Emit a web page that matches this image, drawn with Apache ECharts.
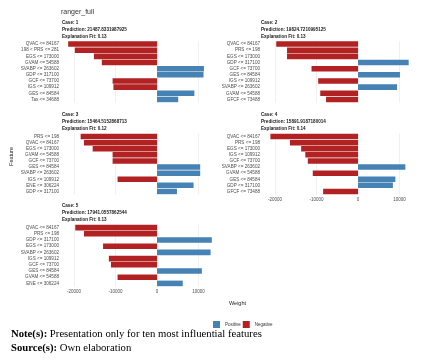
<!DOCTYPE html>
<html>
<head>
<meta charset="utf-8">
<script src="https://cdn.jsdelivr.net/npm/echarts@6/dist/echarts.min.js"></script>
<style>
  html, body { margin: 0; padding: 0; background: #fff; }
  #chart { width: 432px; height: 364px; }
</style>
</head>
<body>
<div id="chart"></div>
<script>
// 数据
var modelName = 'ranger_full';
var caseLabels = ['Case: 1', 'Case: 2', 'Case: 3', 'Case: 4', 'Case: 5'];
var predictions = ['21487.8331987925', '19824.7210995125', '15464.5152868713', '15891.9187180014', '17941.0557862544'];
var explanationFits = ['0.13', '0.13', '0.12', '0.14', '0.13'];

var case1Features = ['QVAC <= 84167', '198 < PRS <= 281', 'EGS <= 173000', 'GVAM <= 54588', 'SVABP <= 263602',
    'GDP <= 317100', 'GCF <= 73700', 'IGS <= 109912', 'GES <= 84584', 'Tax <= 34688'];
var case1Weights = [-21400, -19800, -15200, -13300, 11300, 11200, -10700, -10500, 9000, 5100];

var case2Features = ['QVAC <= 84167', 'PRS <= 198', 'EGS <= 173000', 'GDP <= 317100', 'GCF <= 73700',
    'GES <= 84584', 'IGS <= 109912', 'SVABP <= 263602', 'GVAM <= 54588', 'GFCF <= 73488'];
var case2Weights = [-19700, -17100, -17100, 12200, -11200, 10100, -9600, 9400, -9100, -7700];

var case3Features = ['PRS <= 198', 'QVAC <= 84167', 'EGS <= 173000', 'GVAM <= 54588', 'GCF <= 73700',
    'GES <= 84584', 'SVABP <= 263602', 'IGS <= 109912', 'ENE <= 306224', 'GDP <= 317100'];
var case3Weights = [-18400, -17600, -15500, -10700, -10700, 10400, 10400, -9500, 8800, 4800];

var case4Features = ['QVAC <= 84167', 'PRS <= 198', 'EGS <= 173000', 'IGS <= 109912', 'GCF <= 73700',
    'SVABP <= 263602', 'GVAM <= 54588', 'GES <= 84584', 'GDP <= 317100', 'GFCF <= 73488'];
var case4Weights = [-21100, -16400, -13700, -12700, -12100, 11400, -10900, 9000, 8400, -8400];

var case5Features = ['QVAC <= 84167', 'PRS <= 198', 'GDP <= 317100', 'EGS <= 173000', 'SVABP <= 263602',
    'IGS <= 109912', 'GCF <= 73700', 'GES <= 84584', 'GVAM <= 54588', 'ENE <= 306224'];
var case5Weights = [-19700, -17600, 13200, -13000, 12900, -11600, -11100, 10800, -9500, 6200];

var weightTicks = [-20000, -10000, 0, 10000];
var legendNames = ['Positive', 'Negative'];

var allFeatures = [case1Features, case2Features, case3Features, case4Features, case5Features];
var allWeights = [case1Weights, case2Weights, case3Weights, case4Weights, case5Weights];

var chart = echarts.init(document.getElementById('chart'));

var FONT = '"Liberation Sans", Arial, sans-serif';
var SERIF = '"Liberation Serif", "Times New Roman", serif';
var POS = '#4682B4', NEG = '#B22222';

// 面板位置
var panels = [
    { left: 61, top: 41, height: 61.5, showX: false, hx: 62, hy: 20 },
    { left: 262, top: 41, height: 61.5, showX: false, hx: 261, hy: 20 },
    { left: 61, top: 133.5, height: 61, showX: false, hx: 62, hy: 112 },
    { left: 262, top: 133.5, height: 61, showX: true, hx: 261, hy: 112 },
    { left: 61, top: 224.5, height: 62, showX: true, hx: 62, hy: 203 }
];

var grids = [], xAxes = [], yAxes = [], series = [], graphics = [];

panels.forEach(function (p, i) {
    grids.push({ left: p.left, top: p.top, width: 158, height: p.height, containLabel: false });
    xAxes.push({
        type: 'value', gridIndex: i, min: -23130, max: 14930,
        axisLine: { show: false },
        axisTick: { show: false, customValues: weightTicks },
        axisLabel: {
            show: p.showX, customValues: weightTicks, fontSize: 4.5, color: '#4d4d4d',
            fontFamily: FONT, margin: 3,
            formatter: function (v) { return String(v); }
        },
        splitLine: { show: true, lineStyle: { color: '#e6e6e6', width: 0.6 } }
    });
    yAxes.push({
        type: 'category', gridIndex: i, inverse: true, data: allFeatures[i],
        axisLine: { show: false }, axisTick: { show: false },
        axisLabel: { interval: 0, fontSize: 4.6, color: '#4d4d4d', fontFamily: FONT, margin: 2 },
        splitLine: { show: false }
    });
    var w = allWeights[i];
    series.push({
        name: 'Positive', type: 'bar', xAxisIndex: i, yAxisIndex: i, stack: 'c' + i,
        barWidth: '90%', itemStyle: { color: POS },
        data: w.map(function (v) { return v > 0 ? v : '-'; })
    });
    series.push({
        name: 'Negative', type: 'bar', xAxisIndex: i, yAxisIndex: i, stack: 'c' + i,
        barWidth: '90%', itemStyle: { color: NEG },
        data: w.map(function (v) { return v < 0 ? v : '-'; })
    });
    var lines = [caseLabels[i], 'Prediction: ' + predictions[i], 'Explanation Fit: ' + explanationFits[i]];
    lines.forEach(function (t, k) {
        graphics.push({
            type: 'text', left: p.hx, top: p.hy + k * 7,
            style: { text: t, fontSize: 4.6, fontWeight: 'bold', fontFamily: FONT, fill: '#1a1a1a' }
        });
    });
});

graphics.push({
    type: 'text', left: 61, top: 9,
    style: { text: modelName, fontSize: 7, fontFamily: FONT, fill: '#333' }
});
graphics.push({
    type: 'text', left: 8, top: 147, rotation: Math.PI / 2,
    style: { text: 'Feature', fontSize: 5.5, fontFamily: FONT, fill: '#1a1a1a' }
});
graphics.push({
    type: 'text', left: 229, top: 300,
    style: { text: 'Weight', fontSize: 5.5, fontFamily: FONT, fill: '#1a1a1a' }
});
graphics.push({
    type: 'text', left: 11, top: 329,
    style: {
        text: '{b|Note(s):} Presentation only for ten most influential features',
        fontSize: 10.7, fontFamily: SERIF, fill: '#000',
        rich: { b: { fontWeight: 'bold', fontSize: 10.7, fontFamily: SERIF } }
    }
});
graphics.push({
    type: 'text', left: 11, top: 343,
    style: {
        text: '{b|Source(s):} Own elaboration',
        fontSize: 10.7, fontFamily: SERIF, fill: '#000',
        rich: { b: { fontWeight: 'bold', fontSize: 10.7, fontFamily: SERIF } }
    }
});

var option = {
    animation: false,
    backgroundColor: '#fff',
    legend: {
        data: legendNames, left: 208, top: 316, icon: 'rect',
        itemWidth: 7, itemHeight: 7, itemGap: 2,
        textStyle: { fontSize: 4.5, color: '#333', fontFamily: FONT }
    },
    grid: grids,
    xAxis: xAxes,
    yAxis: yAxes,
    series: series,
    graphic: graphics
};

chart.setOption(option);
</script>
</body>
</html>
